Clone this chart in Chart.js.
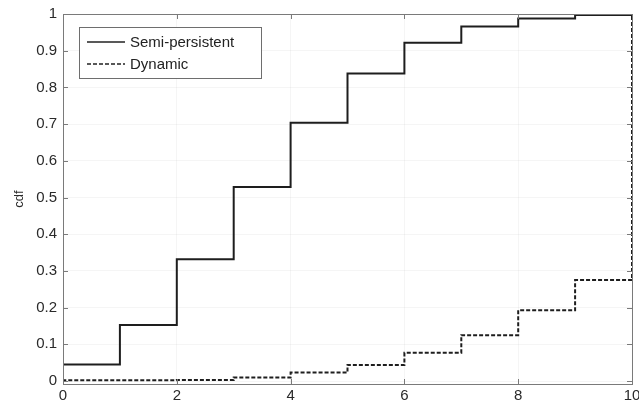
<!DOCTYPE html>
<html>
<head>
<meta charset="utf-8">
<script src="https://cdn.jsdelivr.net/npm/chart.js@4/dist/chart.umd.min.js"></script>
<style>
  html, body { margin: 0; padding: 0; background: #fff; }
  #wrap { width: 639px; height: 405px; }
</style>
</head>
<body>
<div id="wrap"><canvas id="cdf"></canvas></div>
<script>
// step positions and cdf levels
var xSteps = [0, 0, 1, 2, 3, 4, 5, 6, 7, 8, 9, 10];
var semiPersistent = [0, 0.045, 0.153, 0.332, 0.529, 0.704, 0.838, 0.922, 0.966, 0.988, 0.997, 1.0];
var dynamic = [0, 0.002, 0.002, 0.003, 0.010, 0.023, 0.044, 0.077, 0.125, 0.193, 0.275, 1.0];
var xTicks = [0, 2, 4, 6, 8, 10];
var yTicks = [0, 0.1, 0.2, 0.3, 0.4, 0.5, 0.6, 0.7, 0.8, 0.9, 1];
var seriesNames = ["Semi-persistent", "Dynamic"];

function toPoints(ys) {
  return ys.map(function (y, i) { return { x: xSteps[i], y: y }; });
}

var FONT = "'Liberation Sans', Arial, sans-serif";

// box around the axes + inward ticks on all four sides
var boxPlugin = {
  id: "box",
  afterDraw: function (chart) {
    var ctx = chart.ctx, a = chart.chartArea;
    var xs = chart.scales.x, ys = chart.scales.y;
    ctx.save();
    ctx.strokeStyle = "#7a7a7a";
    ctx.lineWidth = 1;
    ctx.strokeRect(a.left + 0.5, a.top + 0.5, a.right - a.left, a.bottom - a.top);
    ctx.beginPath();
    xTicks.forEach(function (v) {
      var px = Math.round(xs.getPixelForValue(v)) + 0.5;
      ctx.moveTo(px, a.bottom); ctx.lineTo(px, a.bottom - 5);
      ctx.moveTo(px, a.top); ctx.lineTo(px, a.top + 5);
    });
    yTicks.forEach(function (v) {
      var py = Math.round(ys.getPixelForValue(v)) + 0.5;
      ctx.moveTo(a.left, py); ctx.lineTo(a.left + 5, py);
      ctx.moveTo(a.right, py); ctx.lineTo(a.right - 5, py);
    });
    ctx.stroke();

    // legend box, top left inside the axes
    var lx = 79, ly = 27, lw = 182, lh = 51;
    ctx.fillStyle = "#fff";
    ctx.fillRect(lx, ly, lw, lh);
    ctx.strokeStyle = "#6e6e6e";
    ctx.strokeRect(lx + 0.5, ly + 0.5, lw, lh);
    ctx.font = "15px " + FONT;
    ctx.textBaseline = "middle";
    chart.data.datasets.forEach(function (ds, i) {
      var ry = ly + 15 + i * 22;
      ctx.beginPath();
      ctx.strokeStyle = "#222";
      ctx.lineWidth = 1.6;
      ctx.setLineDash(ds.borderDash || []);
      ctx.moveTo(87, ry); ctx.lineTo(125, ry);
      ctx.stroke();
      ctx.setLineDash([]);
      ctx.fillStyle = "#222";
      ctx.fillText(ds.label, 130, ry + 1);
    });
    ctx.restore();
  }
};

var ctx = document.getElementById("cdf").getContext("2d");
var chart = new Chart(ctx, {
  type: "line",
  data: {
    datasets: [
      {
        label: seriesNames[0],
        data: toPoints(semiPersistent),
        stepped: true,
        borderColor: "#1e1e1e",
        borderWidth: 2,
        pointRadius: 0,
        fill: false
      },
      {
        label: seriesNames[1],
        data: toPoints(dynamic),
        stepped: true,
        borderColor: "#1e1e1e",
        borderWidth: 2,
        borderDash: [4, 2],
        pointRadius: 0,
        fill: false
      }
    ]
  },
  options: {
    responsive: true,
    maintainAspectRatio: false,
    animation: false,
    layout: { padding: { left: 0, right: 7, top: 14, bottom: 0 } },
    plugins: { legend: { display: false }, tooltip: { enabled: false } },
    scales: {
      x: {
        type: "linear",
        min: 0,
        max: 10,
        afterBuildTicks: function (s) { s.ticks = xTicks.map(function (v) { return { value: v }; }); },
        afterFit: function (s) { s.height = 21; s.paddingLeft = 0; s.paddingRight = 0; },
        grid: { color: "rgba(0,0,0,0.04)", drawTicks: false },
        border: { display: false },
        ticks: { font: { family: FONT, size: 15 }, color: "#2a2a2a", padding: 3, maxRotation: 0,
                 callback: function (v) { return String(v); } }
      },
      y: {
        type: "linear",
        min: -0.008,
        max: 1,
        afterBuildTicks: function (s) { s.ticks = yTicks.map(function (v) { return { value: v }; }); },
        afterFit: function (s) { s.width = 63; s.paddingTop = 0; s.paddingBottom = 0; },
        grid: { color: "rgba(0,0,0,0.04)", drawTicks: false },
        border: { display: false },
        ticks: { font: { family: FONT, size: 15 }, color: "#2a2a2a", padding: 6,
                 callback: function (v) { return String(v); } },
        title: { display: true, text: "cdf", font: { family: FONT, size: 13 }, color: "#2a2a2a", padding: { top: 12, bottom: 0 } }
      }
    }
  },
  plugins: [boxPlugin]
});
</script>
</body>
</html>
